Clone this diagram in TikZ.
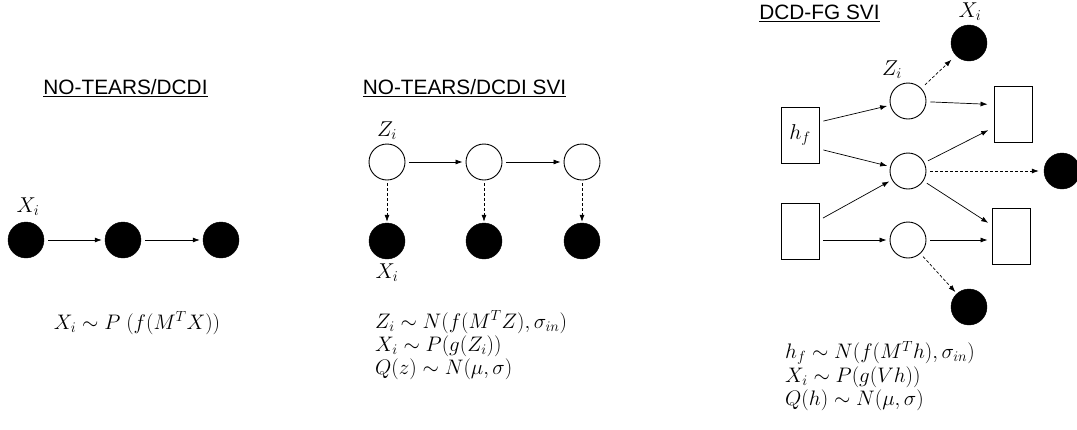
\documentclass[tikz,border=0pt]{standalone}
\usepackage{fix-cm}
\usepackage{fontspec}
\setsansfont{Liberation Sans}
\usetikzlibrary{arrows.meta,calc}
\begin{document}
\begin{tikzpicture}[x=1pt,y=-1pt,
  obs/.style={circle,fill=black,draw=black,minimum size=36pt,inner sep=0pt},
  lat/.style={circle,draw=black,fill=white,line width=0.9pt,minimum size=36pt,inner sep=0pt},
  box/.style={draw=black,line width=0.9pt,minimum width=38pt,minimum height=56pt,inner sep=0pt},
  title/.style={font=\sffamily\fontsize{20.8}{24}\selectfont,inner sep=0pt},
  lab/.style={font=\fontsize{21.5}{25}\selectfont,inner sep=0pt},
  eq/.style={font=\fontsize{21}{25}\selectfont,inner sep=0pt,anchor=west},
  arr/.style={-{Latex[length=7pt,width=5pt]},line width=0.7pt,shorten <=4pt,shorten >=3pt},
  darr/.style={arr,densely dashed}]
\useasboundingbox (0,0) rectangle (1077,429);
% Panel 1
\node[title] (t1) at (125.5,88) {\underline{NO-TEARS/DCDI}};
\node[obs] (a1) at (26,240) {};
\node[obs] (a2) at (123,240) {};
\node[obs] (a3) at (221,240) {};
\node[lab] (la1) at (28,207) {$X_i$};
\draw[arr] (a1) -- (a2);
\draw[arr] (a2) -- (a3);
\node[lab,font=\fontsize{21}{25}\selectfont] (e1) at (137,323) {$X_i \sim P\;(f(M^TX))$};
% Panel 2
\node[title] (t2) at (464.5,88) {\underline{NO-TEARS/DCDI SVI}};
\node[lat] (z1) at (387,162) {};
\node[lat] (z2) at (484,162) {};
\node[lat] (z3) at (582,162) {};
\node[obs] (x1) at (387,241) {};
\node[obs] (x2) at (484,241) {};
\node[obs] (x3) at (582,241) {};
\node[lab] (lz) at (387,131) {$Z_i$};
\node[lab] (lx) at (387,273) {$X_i$};
\draw[arr] (z1) -- (z2);
\draw[arr] (z2) -- (z3);
\draw[darr,shorten <=3pt,shorten >=1pt] (z1) -- (x1);
\draw[darr,shorten <=3pt,shorten >=1pt] (z2) -- (x2);
\draw[darr,shorten <=3pt,shorten >=1pt] (z3) -- (x3);
\node[eq] (e21) at (375,322) {$Z_i \sim N(f(M^TZ),\sigma_{in})$};
\node[eq] (e22) at (375,346) {$X_i \sim P(g(Z_i))$};
\node[eq] (e23) at (375,369) {$Q(z) \sim N(\mu,\sigma)$};
% Panel 3
\node[title] (t3) at (819.5,13) {\underline{DCD-FG SVI}};
\node[box] (hf) at (800,135) {\fontsize{21.5}{25}\selectfont$h_f$};
\node[box] (b1) at (800,231) {};
\node[lat] (c1) at (908,101) {};
\node[lat] (c2) at (908,171) {};
\node[lat] (c3) at (908,240) {};
\node[box] (r1) at (1013,114.5) {};
\node[box] (r2) at (1011,236) {};
\node[obs] (k1) at (969,43) {};
\node[obs] (k2) at (1062,171) {};
\node[obs] (k3) at (969,307) {};
\node[lab] (lk1) at (970,12) {$X_i$};
\node[lab] (lc1) at (892,70) {$Z_i$};
\draw[arr] ([yshift=13pt]hf.east) -- (c1);
\draw[arr] ([yshift=-14pt]hf.east) -- (c2);
\draw[arr] ([yshift=11pt]b1.east) -- (c2);
\draw[arr] (b1.east |- c3) -- (c3);
\draw[arr,shorten >=6pt] (c1) -- ([yshift=10pt]r1.west);
\draw[arr,shorten >=6pt] (c2) -- ([yshift=-13pt]r1.west);
\draw[arr,shorten >=4pt] (c2) -- ([yshift=11pt]r2.west);
\draw[arr,shorten >=4pt] (c3) -- (r2.west |- c3);
\draw[darr,shorten >=5pt] (c2) -- (k2);
\draw[darr,shorten <=5pt,shorten >=6pt] (c1) -- (k1);
\draw[darr,shorten >=2pt] (c3) -- (k3);
\node[eq] (e31) at (785,353) {$h_f \sim N(f(M^Th),\sigma_{in})$};
\node[eq] (e32) at (785,377) {$X_i \sim P(g(Vh))$};
\node[eq] (e33) at (785,400) {$Q(h) \sim N(\mu,\sigma)$};
\end{tikzpicture}
\end{document}
